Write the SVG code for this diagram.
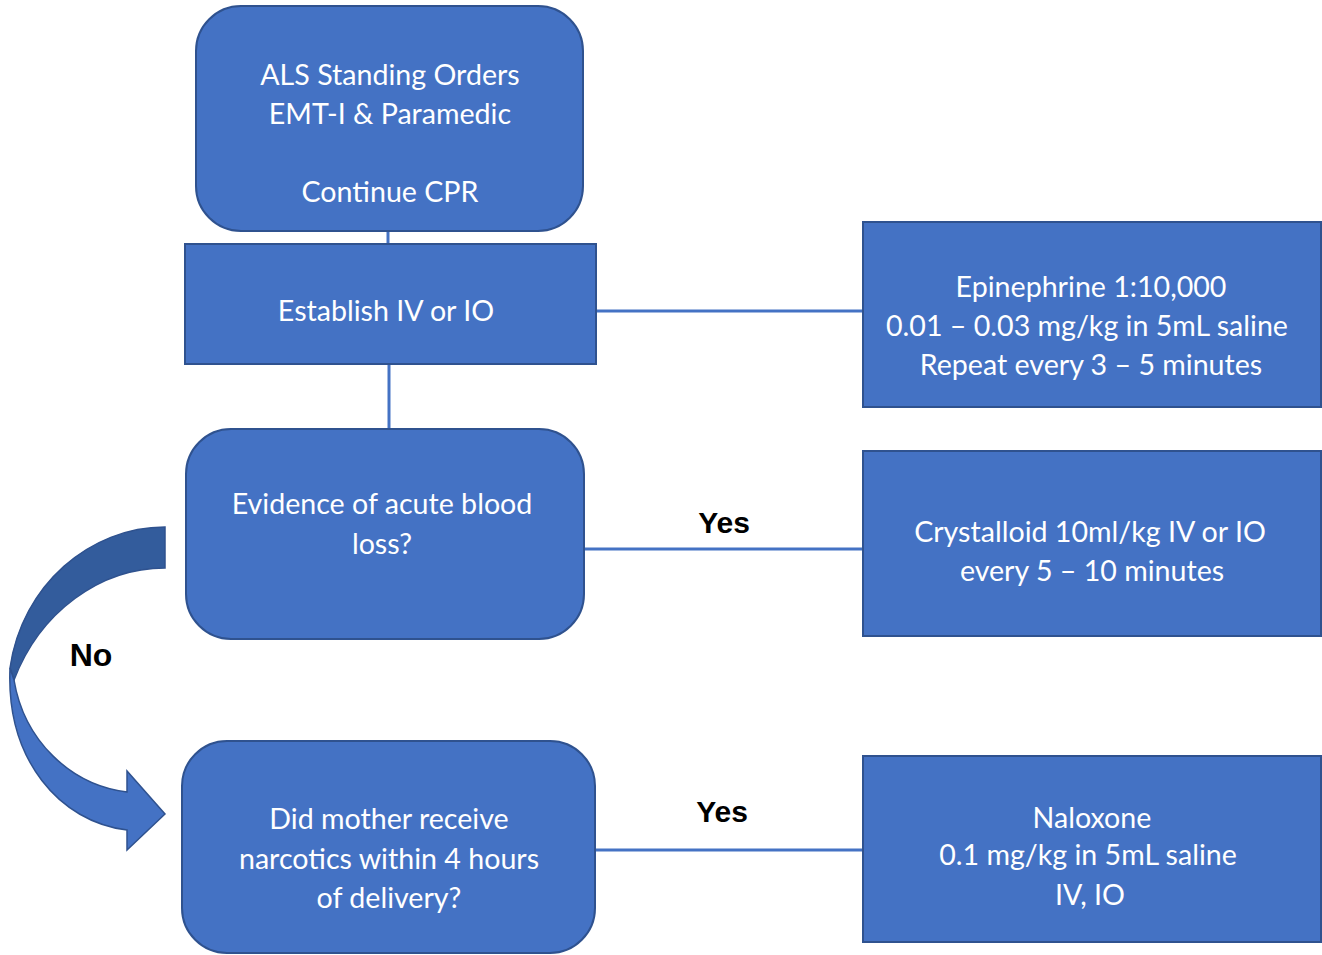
<svg xmlns="http://www.w3.org/2000/svg" width="1322" height="955" viewBox="0 0 1322 955">
<style>
.box{fill:#4472C4;stroke:#2F528F;stroke-width:2}
.t{font-family:Lato,"Open Sans","Liberation Sans",sans-serif;font-size:28.6px;fill:#FFFFFF;text-anchor:middle}
.lbl{font-family:"Liberation Sans",Arial,sans-serif;font-size:30px;font-weight:bold;fill:#000000;text-anchor:middle}
.conn{stroke:#4472C4;stroke-width:3;fill:none}
</style>
<rect width="1322" height="955" fill="#FFFFFF"/>
<g id="connectors">
<line class="conn" x1="388" y1="231" x2="388" y2="245"/>
<line class="conn" x1="389" y1="364" x2="389" y2="430"/>
<line class="conn" x1="596" y1="311" x2="864" y2="311"/>
<line class="conn" x1="584" y1="549" x2="864" y2="549"/>
<line class="conn" x1="595" y1="850" x2="864" y2="850"/>
<path d="M165,527 C90,527 22,585 10,668 L14,680 C40,612 100,568 165,568 Z" fill="#335C9C" stroke="#2F528F" stroke-width="1.5"/>
<path d="M10,668 C6,760 60,822 127,830 L127,850 L165,814 L127,771 L127,792 C70,785 24,740 14,680 Z" fill="#4472C4" stroke="#2F528F" stroke-width="1.5"/>
<text class="lbl" x="724" y="533">Yes</text>
<text class="lbl" x="722" y="822">Yes</text>
<text class="lbl" x="91" y="666" style="font-size:32px">No</text>
</g>
<g id="n1">
<rect class="box" x="196" y="6" width="387" height="225" rx="45"/>
<text class="t" x="390" y="85">ALS Standing Orders</text>
<text class="t" x="390" y="124">EMT-I &amp; Paramedic</text>
<text class="t" x="390" y="202">Continue CPR</text>
</g>
<g id="n2">
<rect class="box" x="185" y="244" width="411" height="120"/>
<text class="t" x="386" y="321">Establish IV or IO</text>
</g>
<g id="n3">
<rect class="box" x="863" y="222" width="458" height="185"/>
<text class="t" x="1091" y="297">Epinephrine 1:10,000</text>
<text class="t" x="1087" y="336">0.01 – 0.03 mg/kg in 5mL saline</text>
<text class="t" x="1091" y="375">Repeat every 3 – 5 minutes</text>
</g>
<g id="n4">
<rect class="box" x="186" y="429" width="398" height="210" rx="45"/>
<text class="t" x="382" y="514">Evidence of acute blood</text>
<text class="t" x="382" y="554">loss?</text>
</g>
<g id="n5">
<rect class="box" x="863" y="451" width="458" height="185"/>
<text class="t" x="1090" y="542">Crystalloid 10ml/kg IV or IO</text>
<text class="t" x="1092" y="581">every 5 – 10 minutes</text>
</g>
<g id="n6">
<rect class="box" x="182" y="741" width="413" height="212" rx="45"/>
<text class="t" x="389" y="829">Did mother receive</text>
<text class="t" x="389" y="869">narcotics within 4 hours</text>
<text class="t" x="389" y="908">of delivery?</text>
</g>
<g id="n7">
<rect class="box" x="863" y="756" width="458" height="186"/>
<text class="t" x="1092" y="828">Naloxone</text>
<text class="t" x="1088" y="865">0.1 mg/kg in 5mL saline</text>
<text class="t" x="1090" y="905">IV, IO</text>
</g>
</svg>
